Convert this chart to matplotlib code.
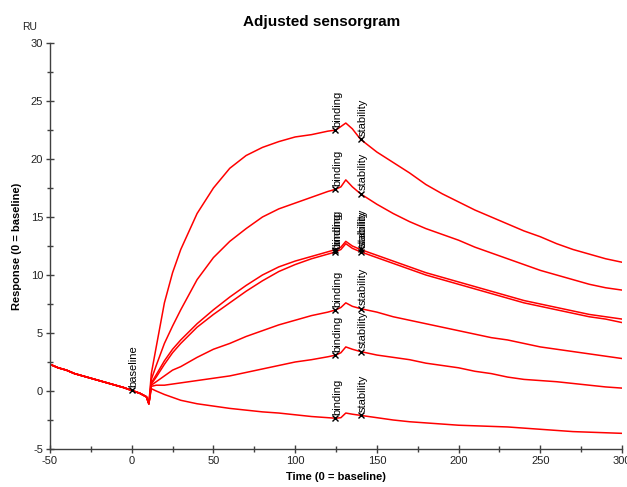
import numpy as np
import matplotlib
matplotlib.use("Agg")
import matplotlib.pyplot as plt
from matplotlib.ticker import MultipleLocator

plt.rcParams['font.family'] = ['Liberation Sans', 'DejaVu Sans']
plt.rcParams['axes.unicode_minus'] = False

# Shared baseline segment (before injection), seconds / RU
base_t = [-50, -45, -40, -35, -30, -25, -20, -15, -10, -5, 0, 5, 9, 10.5]
base_v = [2.3, 2.0, 1.8, 1.5, 1.3, 1.1, 0.9, 0.7, 0.5, 0.3, 0.05, -0.2, -0.5, -1.1]

# Association + dissociation time points
run_t = [12, 15, 20, 25, 30, 40, 50, 60, 70, 80, 90, 100, 110, 120, 125, 128, 131,
         135, 140, 150, 160, 170, 180, 190, 200, 210, 220, 230, 240, 250, 260, 270,
         280, 290, 300]

run_1 = [1.5, 3.8, 7.6, 10.2, 12.2, 15.3, 17.5, 19.2, 20.3, 21.0, 21.5, 21.9, 22.1,
         22.4, 22.5, 22.8, 23.1, 22.6, 21.7, 20.6, 19.7, 18.8, 17.8, 17.0, 16.3, 15.6,
         15.0, 14.4, 13.8, 13.3, 12.7, 12.2, 11.8, 11.4, 11.1]
run_2 = [1.0, 2.2, 4.1, 5.6, 7.0, 9.6, 11.5, 12.9, 14.0, 15.0, 15.7, 16.2, 16.7,
         17.2, 17.4, 17.6, 18.2, 17.6, 17.0, 16.1, 15.3, 14.6, 14.0, 13.5, 13.0, 12.4,
         11.9, 11.4, 10.9, 10.4, 10.0, 9.6, 9.2, 8.9, 8.7]
run_3 = [0.6, 1.2, 2.3, 3.3, 4.1, 5.5, 6.6, 7.6, 8.6, 9.5, 10.3, 10.9, 11.4,
         11.8, 12.0, 12.2, 12.7, 12.3, 12.0, 11.5, 11.0, 10.5, 10.0, 9.6, 9.2, 8.8,
         8.4, 8.0, 7.6, 7.3, 7.0, 6.7, 6.4, 6.2, 5.9]
run_4 = [0.7, 1.4, 2.6, 3.6, 4.4, 5.8, 7.0, 8.1, 9.1, 10.0, 10.7, 11.2, 11.6,
         12.0, 12.2, 12.4, 12.9, 12.5, 12.2, 11.7, 11.2, 10.7, 10.2, 9.8, 9.4, 9.0,
         8.6, 8.2, 7.8, 7.5, 7.2, 6.9, 6.6, 6.4, 6.2]
run_5 = [0.5, 0.8, 1.3, 1.8, 2.1, 2.9, 3.6, 4.1, 4.7, 5.2, 5.7, 6.1, 6.5,
         6.8, 7.0, 7.2, 7.6, 7.3, 7.1, 6.8, 6.4, 6.1, 5.8, 5.5, 5.2, 4.9,
         4.6, 4.4, 4.1, 3.8, 3.6, 3.4, 3.2, 3.0, 2.8]
run_6 = [0.4, 0.5, 0.5, 0.6, 0.7, 0.9, 1.1, 1.3, 1.6, 1.9, 2.2, 2.5, 2.7,
         2.95, 3.1, 3.3, 3.8, 3.6, 3.4, 3.1, 2.9, 2.7, 2.4, 2.2, 2.0, 1.7,
         1.5, 1.2, 1.0, 0.9, 0.8, 0.65, 0.5, 0.35, 0.25]
run_7 = [0.2, 0.0, -0.3, -0.55, -0.8, -1.1, -1.3, -1.5, -1.65, -1.8, -1.9, -2.05, -2.2,
         -2.3, -2.35, -2.3, -1.9, -2.0, -2.1, -2.3, -2.5, -2.65, -2.75, -2.85, -2.95, -3.0,
         -3.05, -3.1, -3.2, -3.3, -3.4, -3.5, -3.55, -3.6, -3.65]

runs = [run_1, run_2, run_3, run_4, run_5, run_6, run_7]

# Report points
baseline_time = 0
binding_time = 124.5
stability_time = 140

fig = plt.figure(figsize=(6.27, 4.87), dpi=100)
ax = fig.add_axes([50 / 627, 1 - 449 / 487, 572 / 627, 406 / 487])

for run in runs:
    t = np.array(base_t + run_t, dtype=float)
    v = np.array(base_v + run, dtype=float)
    ax.plot(t, v, color='#ff0000', lw=1.1, zorder=2)

mark_kw = dict(marker='x', color='black', ms=4, mew=1.0, ls='none', zorder=4)
txt_kw = dict(rotation=90, fontsize=8, ha='center', va='bottom', color='black',
              zorder=5)

# baseline mark
t0 = np.array(base_t + run_t, dtype=float)
bv = np.interp(baseline_time, t0, np.array(base_v + run_1, dtype=float))
ax.plot([baseline_time], [bv], **mark_kw)
ax.text(baseline_time + 1.2, bv + 0.3, 'baseline', **txt_kw)

for run in runs:
    v = np.array(base_v + run, dtype=float)
    yb = np.interp(binding_time, t0, v)
    ys = np.interp(stability_time, t0, v)
    ax.plot([binding_time], [yb], **mark_kw)
    ax.plot([stability_time], [ys], **mark_kw)
    ax.text(binding_time + 1.2, yb + 0.3, 'binding', **txt_kw)
    ax.text(stability_time + 1.2, ys + 0.3, 'stability', **txt_kw)

ax.set_xlim(-50, 300)
ax.set_ylim(-5, 30)
ax.xaxis.set_major_locator(MultipleLocator(50))
ax.xaxis.set_minor_locator(MultipleLocator(25))
ax.yaxis.set_major_locator(MultipleLocator(5))
ax.yaxis.set_minor_locator(MultipleLocator(2.5))

for side in ('top', 'right'):
    ax.spines[side].set_visible(False)
for side in ('left', 'bottom'):
    ax.spines[side].set_color('#404040')
    ax.spines[side].set_linewidth(1.0)

ax.tick_params(which='major', direction='inout', length=6, width=1, color='#404040',
               labelsize=8, labelcolor='#222222', pad=2)
ax.tick_params(which='minor', direction='inout', length=4, width=1, color='#404040')

ax.set_xlabel('Time (0 = baseline)', fontsize=8, fontweight='bold', labelpad=4)
ax.set_ylabel('Response (0 = baseline)', fontsize=8, fontweight='bold', labelpad=6)

fig.text(322 / 627, 1 - 22 / 487, 'Adjusted sensorgram', ha='center', va='center',
         fontsize=11, fontweight='bold')
fig.text(30 / 627, 1 - 27 / 487, 'RU', ha='center', va='center', fontsize=7.5,
         color='#222222')

fig.savefig('out.png', dpi=100)
